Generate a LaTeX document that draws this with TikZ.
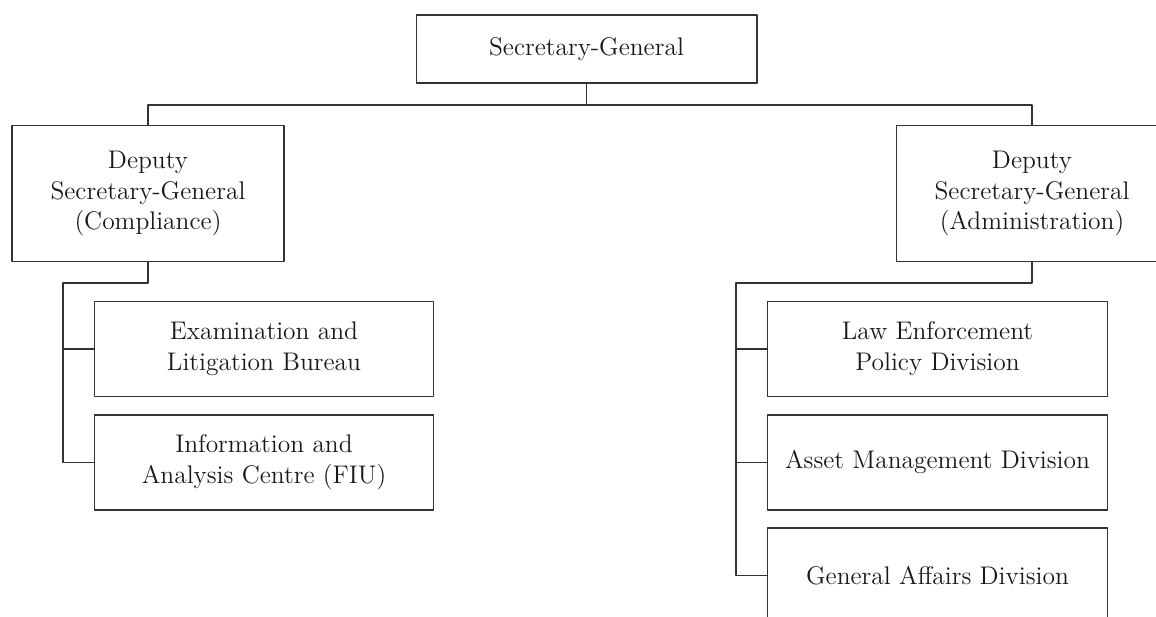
\documentclass[tikz,border=0pt]{standalone}
\usepackage{tikz}
\usetikzlibrary{positioning,calc}

\begin{document}
\begin{tikzpicture}[x=0.02cm, y=-0.02cm, line join=round,
  unit/.style={draw=black!80, line width=0.6pt, text=black!90, align=center,
    inner sep=0pt, font=\fontsize{14.5}{17.6}\selectfont},
  topbox/.style={unit, minimum width=6.82cm, minimum height=1.36cm},
  deputybox/.style={unit, minimum width=5.44cm, minimum height=2.72cm},
  subbox/.style={unit, minimum width=6.8cm, minimum height=1.9cm},
  link/.style={draw=black!80, line width=0.6pt}]
\useasboundingbox (0,0) rectangle (1156,616);
% boxes
\node[topbox] (sg) at (586.5,49) {Secretary-General};
\node[deputybox] (dl) at (148,193.5) {Deputy\\Secretary-General\\(Compliance)};
\node[deputybox] (dr) at (1032,193.5) {Deputy\\Secretary-General\\(Administration)};
\node[subbox] (exam) at (264,349) {Examination and\\Litigation Bureau};
\node[subbox] (info) at (264,462.5) {Information and\\Analysis Centre (FIU)};
\node[subbox] (law) at (937.5,349) {Law Enforcement\\Policy Division};
\node[subbox] (asset) at (937.5,462.5) {Asset Management Division};
\node[subbox] (gad) at (937.5,575.5) {General Affairs Division};
% connectors
\coordinate (bus) at (586.5,105);
\coordinate (lk) at (63,283);
\coordinate (rk) at (736,283);
\draw[link] (sg.south) -- (bus);
\draw[link] (dl.north) |- (bus) -| (dr.north);
\draw[link] (dl.south) |- (lk) |- (exam.west);
\draw[link] (lk) |- (info.west);
\draw[link] (dr.south) |- (rk) |- (law.west);
\draw[link] (rk) |- (asset.west);
\draw[link] (rk) |- (gad.west);
\end{tikzpicture}
\end{document}
